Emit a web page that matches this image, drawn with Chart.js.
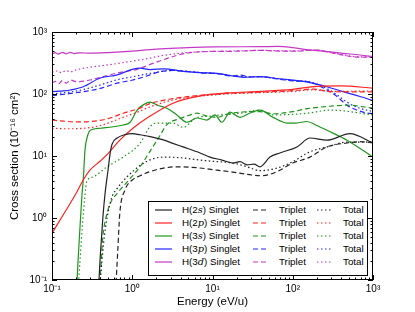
<!DOCTYPE html>
<html>
<head>
<meta charset="utf-8">
<script src="https://cdn.jsdelivr.net/npm/chart.js@4.4.0/dist/chart.umd.min.js"></script>
<style>
  html, body { margin: 0; padding: 0; background: #fff; }
  #wrap { position: relative; width: 415px; height: 312px; }
  #legend {
    position: absolute; left: 148px; top: 201px; width: 220px; height: 75px;
    box-sizing: border-box; border: 1px solid #000; background: #fff;
    font-family: "Liberation Sans", Arial, sans-serif; font-size: 9.8px; color: #000;
  }
  #legend span, #legend svg { position: absolute; line-height: 12px; white-space: nowrap; }
  #legend i { font-family: "DejaVu Serif", "Liberation Serif", serif; }
</style>
</head>
<body>
<div id="wrap">
  <canvas id="myChart" width="415" height="312"></canvas>
  <div id="legend"></div>
</div>
<script>
//--Chart data--//
const states = ['2s', '2p', '3s', '3p', '3d'];
const colors = ['#222222', '#ff2222', '#1f951f', '#2424ff', '#c638c6'];
const xTicks = [0.1, 1, 10, 100, 1000];
const yTicks = [0.1, 1, 10, 100, 1000];
const tickLabels = ['10⁻¹', '10⁰', '10¹', '10²', '10³'];

// [energy (eV/u), cross section (1e-16 cm^2)]
const h2sSinglet = [[0.37,0.05],[0.385,0.1],[0.4,0.25],[0.43,1.0],[0.46,2.6],[0.5,6.0],[0.53,11],[0.56,15.5],[0.65,19.5],[0.8,22],[1.0,23],[1.25,22],[1.67,20.5],[2.5,18],[3.2,16],[4.3,14],[7,11.2],[9.3,9.6],[13.1,8.6],[18,7.7],[22,8.1],[27,7.2],[33,7.4],[39,6.7],[52,9.6],[69,11.2],[113,14],[164,19.5],[267,18],[517,23],[1000,16.2]];
const h2sTriplet = [[0.6,0.05],[0.63,0.1],[0.66,0.3],[0.7,1.2],[0.81,2.8],[1.0,4.1],[1.25,4.8],[1.67,5.6],[2.2,6.2],[3.6,6.7],[7,6.4],[11.4,5.9],[18,5.5],[29,5.0],[39,4.8],[50,5.0],[64,5.6],[100,7.7],[164,9.6],[267,14],[474,16.2],[690,17],[1000,16.2]];
const h2sTotal = [[0.38,0.05],[0.4,0.1],[0.44,0.4],[0.485,1.0],[0.56,2.2],[0.65,3.0],[0.86,4.6],[1.25,7.0],[1.8,9.0],[2.6,9.6],[4.3,9.3],[7,8.6],[11.4,8.1],[18,7.7],[27,6.7],[39,5.8],[64,6.4],[100,8.1],[164,11.7],[267,14],[474,16.8],[1000,16.8]];

const h2pSinglet = [[0.1,0.57],[0.145,1.25],[0.2,2.5],[0.245,4.1],[0.297,5.9],[0.4,8.3],[0.485,10.5],[0.7,18],[1.02,28],[1.67,44],[3.22,71],[7,93],[15.2,104],[39,110],[100,119],[201,133],[400,135],[1000,124]];
const h2pTriplet = [[0.1,38],[0.14,36.5],[0.2,35.5],[0.3,36],[0.5,40],[0.77,49],[1.2,58],[1.67,70],[3.2,84],[7,95],[15,102],[39,107],[100,113],[180,120],[300,109],[1000,108]];
const h2pTotal = [[0.1,28],[0.15,27.5],[0.25,28],[0.4,31],[0.77,42],[1.2,52],[1.67,62],[3.2,80],[7,92],[15,100],[39,105],[100,110],[180,117],[300,110],[1000,112]];

const h3sSinglet = [[0.2,0.05],[0.211,0.2],[0.223,0.69],[0.236,2.3],[0.245,4.1],[0.258,12.5],[0.28,22],[0.3,26],[0.4,28],[0.77,31.6],[0.94,35],[1.15,55],[1.4,68],[1.67,74],[2.05,66],[2.7,59],[3.6,46],[4.8,35],[6.4,41],[8.5,38],[10.7,46],[13.1,35],[16.5,51],[22,42],[29,49],[39,55],[57,42],[85,34],[110,34],[150,36],[200,31],[267,26],[474,18],[1000,9.6]];
const h3sTriplet = [[0.37,0.05],[0.4,0.12],[0.43,0.5],[0.47,1.0],[0.53,1.7],[0.65,2.5],[0.86,3.8],[1.25,6.7],[1.67,12],[2.2,21],[2.7,32],[3.9,40],[5.3,46],[6.4,49],[8.5,44],[11.4,42],[15,47],[22,51],[39,52],[57,48],[100,52],[151,58],[267,63],[474,66],[1000,59]];
const h3sTotal = [[0.205,0.05],[0.215,0.1],[0.223,0.2],[0.24,0.8],[0.255,2.0],[0.27,3.8],[0.324,4.6],[0.485,6.7],[0.77,9.6],[1.25,16],[1.67,30],[2.05,34],[3.2,34],[4.3,29],[6.4,42],[10,44],[12.4,46],[20,48],[39,55],[57,46],[100,47],[151,49],[300,55],[1000,46]];

const h3pSinglet = [[0.1,109],[0.14,112],[0.17,116],[0.245,131],[0.4,181],[0.65,203],[1.0,250],[1.25,262],[1.67,248],[2.5,255],[4.3,232],[7,222],[11.4,215],[18,195],[24,186],[39,190],[64,178],[100,168],[164,153],[267,131],[423,109],[690,91],[1000,78]];
const h3pTriplet = [[0.1,94],[0.17,102],[0.245,109],[0.4,123],[0.65,150],[1.02,168],[1.67,203],[2.2,228],[3.2,240],[7,220],[11.4,212],[18,195],[22,202],[30,188],[39,190],[64,175],[100,163],[164,155],[267,116],[356,91],[474,66],[632,55],[800,50],[1000,48]];
const h3pTotal = [[0.1,100],[0.17,108],[0.245,118],[0.4,140],[0.65,170],[1.02,190],[1.67,215],[3.2,240],[7,222],[11.4,214],[18,197],[30,190],[39,190],[64,176],[100,165],[164,157],[267,122],[356,97],[474,74],[632,61],[1000,52]];

const h3dSinglet = [[0.1,440],[0.11,465],[0.12,440],[0.135,468],[0.15,445],[0.17,470],[0.19,448],[0.22,462],[0.3,455],[0.5,465],[1,490],[1.67,520],[3,545],[10,575],[40,580],[65,585],[100,560],[160,515],[270,482],[420,453],[690,426],[1000,400]];
const h3dTriplet = [[0.1,150],[0.11,160],[0.12,145],[0.135,165],[0.15,150],[0.17,168],[0.2,158],[0.3,168],[0.4,185],[0.65,218],[1.15,250],[1.67,300],[2.5,360],[3.6,420],[5,460],[7,480],[20,490],[39,505],[60,495],[100,490],[200,510],[318,455],[564,400],[1000,390]];
const h3dTotal = [[0.1,225],[0.115,235],[0.13,222],[0.15,238],[0.17,228],[0.2,245],[0.65,310],[1.67,380],[2.2,410],[4.3,460],[7,480],[20,495],[40,505],[100,495],[200,512],[318,460],[564,405],[1000,393]];
//--Chart data--//

const singlets = [h2sSinglet, h2pSinglet, h3sSinglet, h3pSinglet, h3dSinglet];
const triplets = [h2sTriplet, h2pTriplet, h3sTriplet, h3pTriplet, h3dTriplet];
const totals = [h2sTotal, h2pTotal, h3sTotal, h3pTotal, h3dTotal];

const dashStyles = { Singlet: [], Triplet: [5, 3], Total: [1.5, 2.5] };
const fontFamily = "'Liberation Sans', Arial, sans-serif";

function toPoints(arr) {
  return arr.map(p => ({ x: p[0], y: p[1] }));
}

const datasets = [];
states.forEach((s, i) => {
  [['Singlet', singlets[i]], ['Triplet', triplets[i]], ['Total', totals[i]]].forEach(([kind, arr]) => {
    datasets.push({
      label: 'H(' + s + ') ' + kind,
      data: toPoints(arr),
      borderColor: colors[i],
      borderWidth: 1.2,
      borderDash: dashStyles[kind],
      pointRadius: 0,
      cubicInterpolationMode: 'monotone',
      fill: false
    });
  });
});

// frame on all four sides + inward major/minor ticks
const frameTicks = {
  id: 'frameTicks',
  afterDatasetsDraw(chart) {
    const { ctx, chartArea: a, scales: { x, y } } = chart;
    ctx.save();
    ctx.strokeStyle = '#000';
    ctx.lineWidth = 1;
    ctx.strokeRect(a.left + 0.5, a.top + 0.5, a.right - a.left - 1, a.bottom - a.top - 1);
    ctx.beginPath();
    for (let n = -1; n <= 3; n++) {
      for (let k = 1; k <= 9; k++) {
        const v = k * Math.pow(10, n);
        if (v > 1000.001) break;
        const len = k === 1 ? 5 : 2.5;
        const px = Math.round(x.getPixelForValue(v)) + 0.5;
        ctx.moveTo(px, a.bottom); ctx.lineTo(px, a.bottom - len);
        ctx.moveTo(px, a.top); ctx.lineTo(px, a.top + len);
        const py = Math.round(y.getPixelForValue(v)) + 0.5;
        ctx.moveTo(a.left, py); ctx.lineTo(a.left + len, py);
        ctx.moveTo(a.right, py); ctx.lineTo(a.right - len, py);
      }
    }
    ctx.stroke();
    ctx.restore();
  }
};

new Chart(document.getElementById('myChart').getContext('2d'), {
  type: 'line',
  data: { datasets: datasets },
  options: {
    responsive: false,
    animation: false,
    devicePixelRatio: 1,
    layout: { padding: { left: 0, right: 42, top: 32, bottom: 0 } },
    plugins: { legend: { display: false }, tooltip: { enabled: false } },
    scales: {
      x: {
        type: 'logarithmic',
        min: 0.1,
        max: 1000,
        afterBuildTicks: s => { s.ticks = xTicks.map(v => ({ value: v })); },
        afterFit: s => { s.height = 32; },
        grid: { display: false, drawTicks: false },
        border: { display: false },
        ticks: {
          color: '#000', padding: 3, maxRotation: 0, autoSkip: false,
          font: { family: fontFamily, size: 10 },
          callback: (v, i) => tickLabels[i]
        },
        title: {
          display: true, text: 'Energy (eV/u)', color: '#000',
          font: { family: fontFamily, size: 11.5 },
          padding: { top: 0, bottom: 3 }
        }
      },
      y: {
        type: 'logarithmic',
        min: 0.1,
        max: 1000,
        afterBuildTicks: s => { s.ticks = yTicks.map(v => ({ value: v })); },
        afterFit: s => { s.width = 52; },
        grid: { display: false, drawTicks: false },
        border: { display: false },
        ticks: {
          color: '#000', padding: 5, autoSkip: false,
          font: { family: fontFamily, size: 10 },
          callback: (v, i) => tickLabels[i]
        },
        title: {
          display: true, text: 'Cross section (10⁻¹⁶ cm²)', color: '#000',
          font: { family: fontFamily, size: 11.5 },
          padding: { top: 8, bottom: 0 }
        }
      }
    }
  },
  plugins: [frameTicks]
});

// three-column legend inside the plot (Singlet / Triplet / Total)
const legendEl = document.getElementById('legend');
const cols = [
  { kind: 'Singlet', sx: 6, sw: 17, tx: 33 },
  { kind: 'Triplet', sx: 104, sw: 15, tx: 130 },
  { kind: 'Total', sx: 168, sw: 14, tx: 194 }
];
states.forEach((s, i) => {
  const cy = 7.5 + 13.1 * i;
  cols.forEach(c => {
    const svg = document.createElementNS('http://www.w3.org/2000/svg', 'svg');
    svg.setAttribute('width', c.sw);
    svg.setAttribute('height', 4);
    svg.style.left = c.sx + 'px';
    svg.style.top = (cy - 2) + 'px';
    const ln = document.createElementNS('http://www.w3.org/2000/svg', 'line');
    ln.setAttribute('x1', 0); ln.setAttribute('x2', c.sw);
    ln.setAttribute('y1', 2); ln.setAttribute('y2', 2);
    ln.setAttribute('stroke', colors[i]);
    ln.setAttribute('stroke-width', 1.2);
    if (dashStyles[c.kind].length) ln.setAttribute('stroke-dasharray', dashStyles[c.kind].join(' '));
    svg.appendChild(ln);
    legendEl.appendChild(svg);

    const t = document.createElement('span');
    t.style.left = c.tx + 'px';
    t.style.top = (cy - 6) + 'px';
    if (c.kind === 'Singlet') {
      t.innerHTML = 'H(' + s[0] + '<i>' + s[1] + '</i>) Singlet';
    } else {
      t.textContent = c.kind;
    }
    legendEl.appendChild(t);
  });
});
</script>
</body>
</html>
